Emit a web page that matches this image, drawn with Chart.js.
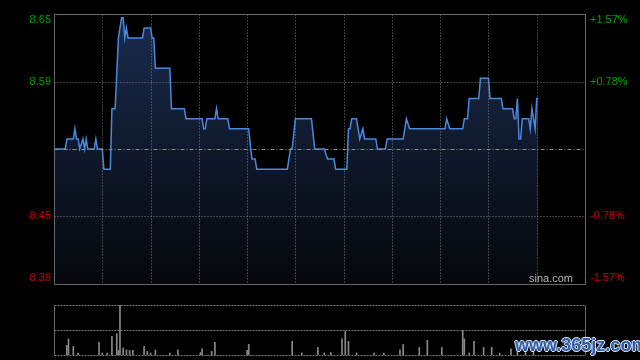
<!DOCTYPE html>
<html>
<head>
<meta charset="utf-8">
<script src="https://cdn.jsdelivr.net/npm/chart.js@4.4.0/dist/chart.umd.min.js"></script>
<style>
  html, body { margin: 0; padding: 0; background: #000; }
  #wrap { position: relative; width: 640px; height: 360px; overflow: hidden; background: #000; }
  #price-box { position: absolute; left: 0; top: 0; width: 640px; height: 290px; }
  #vol-box { position: absolute; left: 0; top: 300px; width: 640px; height: 60px; }
  #mark {
    position: absolute; left: 515px; top: 335px; line-height: 20px;
    font: bold 18px "Liberation Sans Narrow", "Liberation Sans", Arial, sans-serif;
    color: #2f5da6;
    text-shadow: 1px 0 0 #d8e6ff, -1px 0 0 #d8e6ff, 0 1px 0 #d8e6ff, 0 -1px 0 #d8e6ff;
  }
</style>
</head>
<body>
<div id="wrap">
  <div id="price-box"><canvas id="chart-price"></canvas></div>
  <div id="vol-box"><canvas id="chart-vol"></canvas></div>
  <div id="mark">www.365jz.com</div>
</div>
<script>
// previous close and axis labels
const prevClose = 8.52;
const pctLevels = [1.57, 0.78, -0.78, -1.57];
const priceLabels = ['8.65', '8.59', '8.45', '8.39'];
const pctLabels = ['+1.57%', '+0.78%', '-0.78%', '-1.57%'];

// minutes since 9:30 (lunch break removed), 330 = 16:00
const sessionMinutes = [0, 30, 60, 90, 120, 150, 180, 210, 240, 270, 300, 330];

// price line (minute, price)
const priceMinutes = [0, 7, 8, 12, 13, 14, 15, 16, 18, 19, 20, 21, 25, 26, 27, 30, 31, 35, 36, 38,
  40, 42, 43, 44, 45, 46, 55, 56, 60, 61, 62, 63, 72, 73, 81, 82, 92, 93, 94, 95,
  100, 101, 102, 108, 109, 121, 123, 125, 126, 145, 147, 148, 150, 160, 162, 168, 170, 174, 175, 182,
  183, 184, 185, 188, 190, 192, 193, 200, 201, 206, 207, 217, 219, 221, 243, 244, 246, 254, 255, 257,
  258, 264, 265, 270, 271, 278, 279, 285, 286, 287, 288, 289, 290, 291, 295, 296, 297, 298, 299, 300, 301];
const priceValues = [8.52, 8.52, 8.53, 8.53, 8.54, 8.53, 8.53, 8.52, 8.53, 8.52, 8.53, 8.52, 8.52, 8.53, 8.52, 8.52, 8.50, 8.50, 8.56, 8.56,
  8.63, 8.65, 8.65, 8.63, 8.64, 8.63, 8.63, 8.64, 8.64, 8.63, 8.63, 8.60, 8.60, 8.56, 8.56, 8.55, 8.55, 8.54, 8.54, 8.55,
  8.55, 8.56, 8.55, 8.55, 8.54, 8.54, 8.51, 8.51, 8.50, 8.50, 8.52, 8.52, 8.55, 8.55, 8.52, 8.52, 8.51, 8.51, 8.50, 8.50,
  8.54, 8.54, 8.55, 8.55, 8.53, 8.54, 8.53, 8.53, 8.52, 8.52, 8.53, 8.53, 8.55, 8.54, 8.54, 8.55, 8.54, 8.54, 8.55, 8.55,
  8.57, 8.57, 8.59, 8.59, 8.57, 8.57, 8.56, 8.56, 8.55, 8.55, 8.57, 8.53, 8.53, 8.55, 8.55, 8.54, 8.56, 8.55, 8.54, 8.57, 8.57];

// volume bars (minute, volume in thousand shares)
const volMinutes = [8, 9, 12, 15, 28, 30, 33, 36, 39, 40, 41, 43, 45, 47, 49, 56, 58, 60, 63, 72,
  77, 91, 92, 98, 100, 120, 121, 148, 154, 164, 168, 172, 179, 181, 183, 188, 199, 205, 215, 217,
  227, 232, 241, 254, 255, 258, 261, 267, 272, 277, 284, 288, 293, 298];
const volValues = [95, 160, 85, 20, 125, 20, 18, 185, 210, 45, 495, 70, 50, 45, 45, 85, 35, 20, 50, 20,
  50, 25, 60, 35, 125, 45, 105, 135, 20, 75, 20, 25, 160, 235, 135, 20, 20, 20, 50, 105,
  75, 145, 75, 245, 160, 20, 135, 75, 75, 18, 60, 90, 40, 70];

const levelPrice = p => prevClose * (1 + p / 100);

const panelLines = {
  id: 'panelLines',
  afterDatasetsDraw(chart, args, opts) {
    const { ctx, chartArea: a, scales: { x, y } } = chart;
    const px = v => Math.round(v) + 0.5;
    const line = (x1, y1, x2, y2, color, dash) => {
      ctx.strokeStyle = color;
      ctx.setLineDash(dash);
      ctx.beginPath();
      ctx.moveTo(x1, y1);
      ctx.lineTo(x2, y2);
      ctx.stroke();
    };
    const L = px(a.left), R = px(a.right), T = px(a.top), B = px(a.bottom);
    ctx.save();
    ctx.lineWidth = 1;
    (opts.xLines || []).forEach(m => {
      const xx = px(x.getPixelForValue(m));
      line(xx, T, xx, B, '#7a7a7a', [1, 2]);
    });
    (opts.yLines || []).forEach(v => {
      const yy = px(y.getPixelForValue(v));
      line(L, yy, R, yy, '#7a7a7a', opts.dot);
    });
    if (opts.midLine != null) {
      const yy = px(y.getPixelForValue(opts.midLine));
      line(L, yy, R, yy, '#8c8c8c', [4, 2, 1, 2]);
    }
    if (opts.frameTopBottom) {
      line(L, T, R, T, '#6a6a6a', []);
      line(L, B, R, B, '#6a6a6a', []);
    }
    line(L, T, L, B, '#6a6a6a', []);
    line(R, T, R, B, '#6a6a6a', []);
    ctx.restore();
  }
};

const sideLabels = {
  id: 'sideLabels',
  afterDraw(chart) {
    const { ctx, chartArea: a, scales: { y } } = chart;
    ctx.save();
    ctx.font = '11px "Liberation Sans", Arial, sans-serif';
    ctx.textBaseline = 'middle';
    pctLevels.forEach((p, i) => {
      let yy = y.getPixelForValue(levelPrice(p));
      if (i === 0) yy += 6;
      if (i === pctLevels.length - 1) yy -= 6;
      ctx.fillStyle = p > 0 ? '#00a000' : '#d00000';
      ctx.textAlign = 'right';
      ctx.fillText(priceLabels[i], a.left - 3, yy);
      ctx.textAlign = 'left';
      ctx.fillText(pctLabels[i], a.right + 5, yy);
    });
    ctx.fillStyle = '#b4b4b4';
    ctx.textAlign = 'right';
    ctx.fillText('sina.com', a.right - 12, a.bottom - 5);
    ctx.restore();
  }
};

new Chart(document.getElementById('chart-price'), {
  type: 'line',
  data: {
    datasets: [{
      data: priceMinutes.map((m, i) => ({ x: m, y: priceValues[i] })),
      borderColor: '#4a88de',
      borderWidth: 1.5,
      pointRadius: 0,
      tension: 0,
      fill: 'start',
      backgroundColor: ctx => {
        const a = ctx.chart.chartArea;
        if (!a) return 'rgba(0,0,0,0)';
        const g = ctx.chart.ctx.createLinearGradient(0, a.top, 0, a.bottom);
        g.addColorStop(0, '#1a2c4e');
        g.addColorStop(1, '#05070b');
        return g;
      }
    }]
  },
  options: {
    responsive: true,
    maintainAspectRatio: false,
    animation: false,
    layout: { padding: { left: 54, right: 55, top: 14, bottom: 6 } },
    plugins: {
      legend: { display: false },
      tooltip: { enabled: false },
      panelLines: {
        xLines: sessionMinutes.slice(1, -1),
        yLines: [levelPrice(0.78), levelPrice(-0.78)],
        dot: [1, 2],
        midLine: prevClose,
        frameTopBottom: true
      }
    },
    scales: {
      x: { type: 'linear', min: 0, max: 330, display: false },
      y: { min: levelPrice(-1.57), max: levelPrice(1.57), display: false }
    }
  },
  plugins: [panelLines, sideLabels]
});

const volMax = Math.max(...volValues);

new Chart(document.getElementById('chart-vol'), {
  type: 'bar',
  data: {
    datasets: [{
      data: volMinutes.map((m, i) => ({ x: m, y: volValues[i] })),
      backgroundColor: '#8a8a8a',
      barThickness: 1,
      grouped: false
    }]
  },
  options: {
    responsive: true,
    maintainAspectRatio: false,
    animation: false,
    layout: { padding: { left: 54, right: 55, top: 5, bottom: 5 } },
    plugins: {
      legend: { display: false },
      tooltip: { enabled: false },
      panelLines: {
        yLines: [0, volMax / 2, volMax],
        dot: [2, 1]
      }
    },
    scales: {
      x: { type: 'linear', min: 0, max: 330, offset: false, display: false },
      y: { min: 0, max: volMax, display: false }
    }
  },
  plugins: [panelLines]
});
</script>
</body>
</html>
